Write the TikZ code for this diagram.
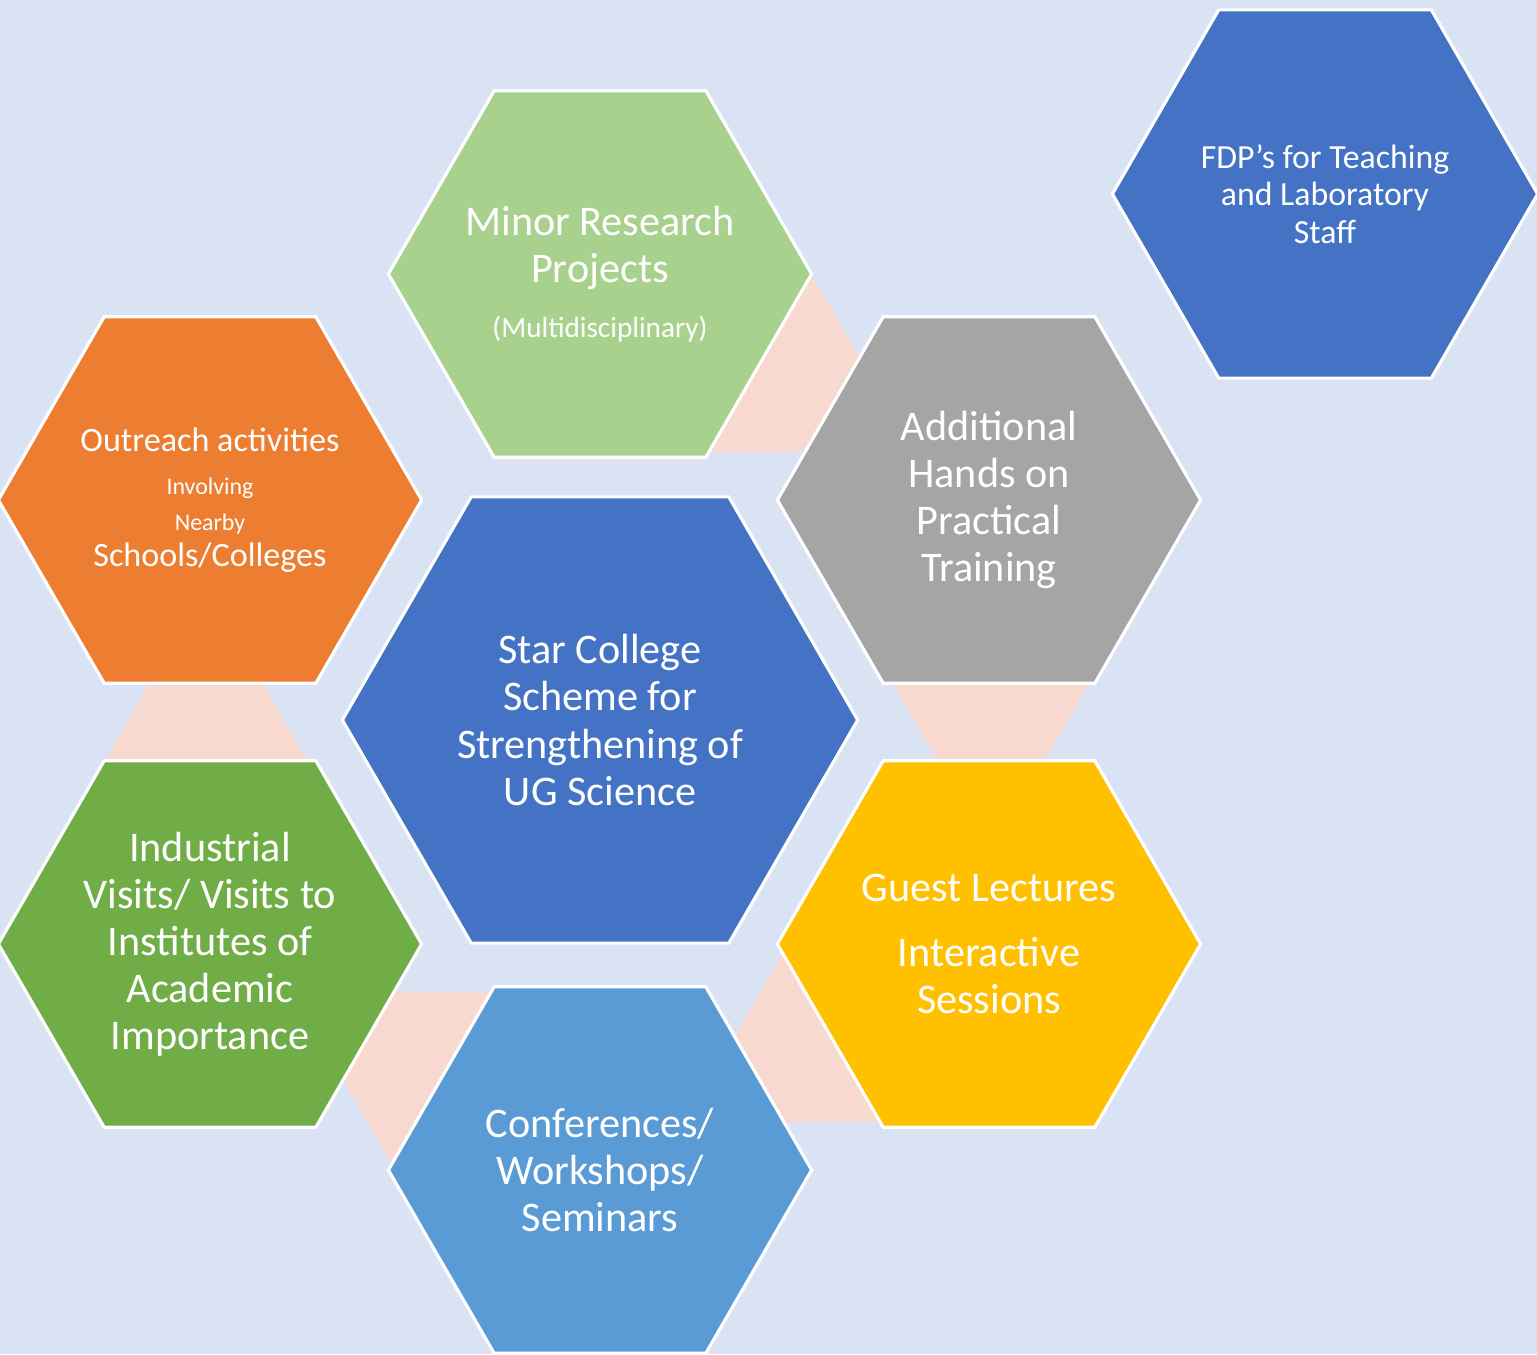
\documentclass[tikz,border=0pt]{standalone}
\usepackage{fontspec}
\setmainfont{Carlito}
\usetikzlibrary{shapes.geometric}
\definecolor{bgblue}{HTML}{DAE3F3}
\definecolor{hexblue}{HTML}{4472C4}
\definecolor{hexlime}{HTML}{A9D18E}
\definecolor{hexorange}{HTML}{ED7D31}
\definecolor{hexgray}{HTML}{A5A5A5}
\definecolor{hexgold}{HTML}{FFC000}
\definecolor{hexgreen}{HTML}{70AD47}
\definecolor{hexsky}{HTML}{5B9BD5}
\definecolor{bridgepink}{HTML}{F8D9CF}

\begin{document}
\begin{tikzpicture}[x=0.01cm,y=-0.01cm,
  hexa/.style={regular polygon,regular polygon sides=6,
    draw=white,line width=0.9pt,inner sep=0pt,minimum size=4.23cm,
    text=white,align=center,font=\fontsize{12}{13.4}\selectfont},
  bridge/.style={fill=bridgepink}]
  \useasboundingbox (0,0) rectangle (1537,1354);
  \fill[bgblue] (0,0) rectangle (1537,1354);
  \coordinate (cstar) at (600,720);
  \coordinate (cminor) at (600,274);
  \coordinate (coutreach) at (210,500);
  \coordinate (chands) at (989,500);
  \coordinate (cvisits) at (210,944);
  \coordinate (cguest) at (989,944);
  \coordinate (cconf) at (600,1170);
  \coordinate (cfdp) at (1325,194);
  \fill[bridge] (cminor) ++(211,0) -- ++(103,178) -- ++(-206,0) -- cycle;
  \fill[bridge] (chands) ++(-101,175) -- ++(206,0) -- ++(-103,178) -- cycle;
  \fill[bridge] (cguest) ++(-201,0) -- ++(103,178) -- ++(-206,0) -- cycle;
  \fill[bridge] (cconf) ++(-205,0) -- ++(-103,-178) -- ++(206,0) -- cycle;
  \fill[bridge] (cvisits) ++(-107,-180) -- ++(206,0) -- ++(-103,-178) -- cycle;
  \node[hexa,fill=hexblue,minimum size=5.15cm] (star) at (cstar)
    {Star College\\Scheme for\\Strengthening of\\UG Science};
  \node[hexa,fill=hexlime,inner sep=-0.5cm] (minor) at (cminor)
    {Minor Research\\Projects\\[2.2pt]{\fontsize{8.3}{9}\selectfont (Multidisciplinary)}};
  \node[hexa,fill=hexorange,font=\fontsize{9.7}{10.3}\selectfont] (outreach) at (coutreach)
    {Outreach activities\\[2pt]{\fontsize{6.8}{7}\selectfont Involving}\\{\fontsize{6.8}{7}\selectfont Nearby}\\Schools/Colleges};
  \node[hexa,fill=hexgray] (hands) at (chands)
    {Additional\\Hands on\\Practical\\Training};
  \node[hexa,fill=hexgreen] (visits) at (cvisits)
    {Industrial\\Visits/ Visits to\\Institutes of\\Academic\\Importance};
  \node[hexa,fill=hexgold] (guest) at (cguest)
    {Guest Lectures\\[5.1pt]Interactive\\Sessions};
  \node[hexa,fill=hexsky] (conf) at (cconf)
    {Conferences/\\Workshops/\\Seminars};
  \node[hexa,fill=hexblue,minimum size=4.25cm,font=\fontsize{9.6}{10.7}\selectfont] (fdp) at (cfdp)
    {FDP’s for Teaching\\and Laboratory\\Staff};
\end{tikzpicture}
\end{document}
